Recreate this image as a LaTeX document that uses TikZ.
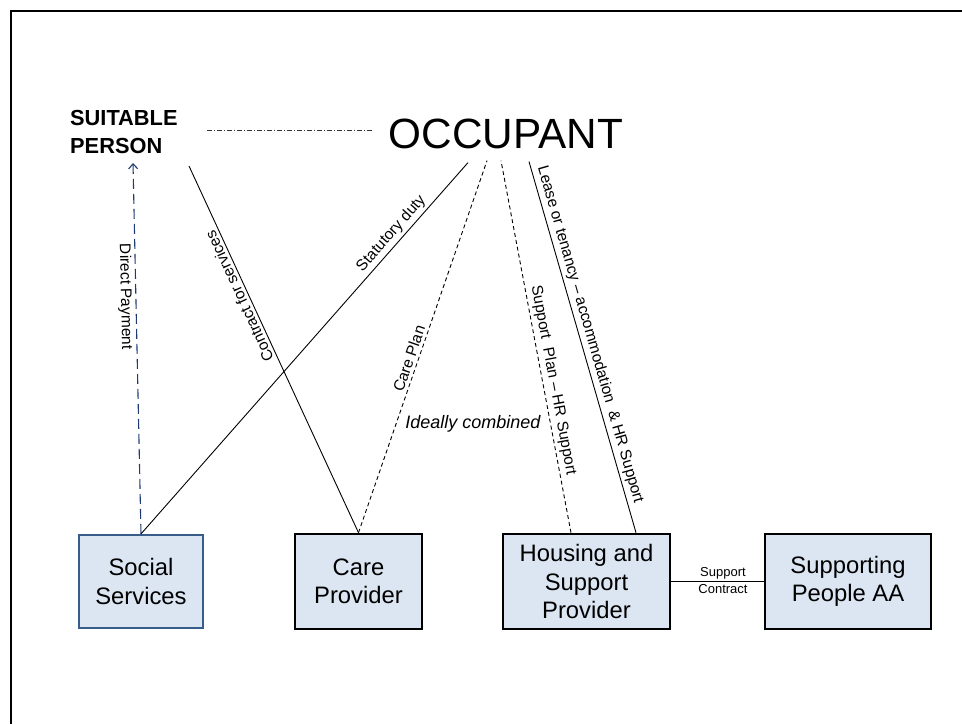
\documentclass[tikz,border=0pt]{standalone}
\usepackage{fontspec}
\setmainfont{Liberation Sans}
\usetikzlibrary{arrows.meta,calc}
\definecolor{boxfill}{HTML}{DCE6F2}
\definecolor{ssedge}{HTML}{385D8A}
\definecolor{navyline}{HTML}{1F3B73}
\begin{document}
\begin{tikzpicture}[x=1pt,y=-1pt,
  entity/.style={draw=black, line width=2.6pt, fill=boxfill, align=center,
    font=\fontsize{23.8}{28.5}\selectfont, inner sep=0pt},
  link/.style={line width=0.9pt},
  plan/.style={line width=0.9pt, dash pattern=on 4pt off 3pt},
  lbl/.style={text=black, font=\fontsize{15.5}{18}\selectfont, inner sep=3pt},
]
\useasboundingbox (0,0) rectangle (962,724);
% page frame (top and left edges)
\draw[line width=1.6pt] (962,11) -- (11,11) -- (11,724);

% parties
\node[entity, draw=ssedge, line width=2.2pt, minimum width=124, minimum height=93] (ss) at (141,581.5) {Social\\Services};
\node[entity, minimum width=127, minimum height=95] (cp) at (358.5,581.5) {Care\\Provider};
\node[entity, minimum width=167, minimum height=95] (hs) at (586.5,581.5) {Housing and\\Support\\Provider};
\node[entity, minimum width=166, minimum height=95] (spa) at (848,581.5) {Supporting\\People AA};

\node[anchor=base, font=\fontsize{42.3}{48}\selectfont, inner sep=0pt] (occ) at (506,148) {OCCUPANT};
\node[anchor=base west, align=left, font=\bfseries\fontsize{21.8}{28}\selectfont, inner sep=0pt] (sp) at (70,153) {SUITABLE\\PERSON};

% free ends of the connectors
\coordinate (dpEnd) at (133,163);
\coordinate (csEnd) at (189,166);
\coordinate (sdEnd) at ($(occ.south)+(-38,14)$);
\coordinate (cpEnd) at ($(occ.south)+(-19,12)$);
\coordinate (spEnd) at ($(occ.south)+(-5,12)$);
\coordinate (ltEnd) at ($(occ.south)+(23,13)$);
\coordinate (ddA) at (207,130);
\coordinate (ddB) at (372,130);

% relationships
\draw[line width=0.8pt, black!80, dash pattern=on 5pt off 2pt on 1pt off 2pt] (ddA) -- (ddB);
\draw[navyline, line width=1.1pt, dash pattern=on 10pt off 5pt, -{Straight Barb[length=5pt,width=9pt]}]
  (ss.north) -- node[lbl, pos=0.64, sloped, below] {Direct Payment} (dpEnd);
\draw[link] (ss.north) -- node[lbl, pos=0.79, sloped, above] {Statutory duty} (sdEnd);
\draw[link] (cp.north) -- node[lbl, pos=0.655, sloped, above, allow upside down] {Contract for services} (csEnd);
\draw[plan] (cp.north) -- node[lbl, pos=0.46, sloped, above] {Care Plan} (cpEnd);
\draw[plan] ([xshift=-15.5]hs.north) -- node[lbl, pos=0.404, sloped, above] {Support\ \ Plan \textendash\ HR Support} (spEnd);
\draw[link] ([xshift=49.5]hs.north) -- node[lbl, pos=0.525, sloped, above] {Lease or tenancy \textendash\ accommodation\ \ \& HR Support} (ltEnd);
\draw[link] (hs.east) -- node[midway, xshift=5.5, yshift=1, align=center, inner sep=0pt, font=\fontsize{13}{17}\selectfont] {Support\\Contract} (spa.west);

\node[font=\itshape\fontsize{18}{22}\selectfont, inner sep=0pt] (ic) at (473,424) {Ideally combined};
\end{tikzpicture}
\end{document}
